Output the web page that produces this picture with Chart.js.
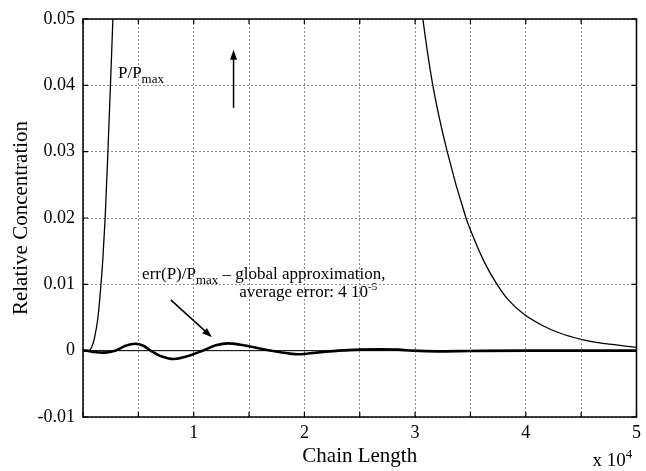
<!DOCTYPE html>
<html>
<head>
<meta charset="utf-8">
<script src="https://cdn.jsdelivr.net/npm/chart.js@4/dist/chart.umd.min.js"></script>
<style>
  html, body { margin: 0; padding: 0; background: #fff; }
  #wrap { width: 646px; height: 471px; }
</style>
</head>
<body>
<div id="wrap"><canvas id="chart" width="646" height="471"></canvas></div>
<script>
// P/Pmax, rising flank (x in units of 10^4)
const riseX = [0, 0.05, 0.08, 0.105, 0.135, 0.16, 0.18, 0.2, 0.225, 0.248, 0.27, 0.29];
const riseY = [0, 0, 0.0006, 0.002, 0.005, 0.0095, 0.014, 0.02, 0.03, 0.04, 0.05, 0.06];
// P/Pmax, falling flank
const fallX = [3.0, 3.07, 3.16, 3.29, 3.46, 3.5, 3.63, 3.74, 3.84, 3.99, 4.15, 4.3, 4.5, 4.65, 4.8, 5.0];
const fallY = [0.06, 0.05, 0.04, 0.03, 0.02, 0.0182, 0.0132, 0.01, 0.0077, 0.0054, 0.0038, 0.0027, 0.0017, 0.0012, 0.0009, 0.0005];
// err(P)/Pmax, global approximation
const errX = [0, 0.03, 0.1, 0.18, 0.29, 0.38, 0.47, 0.55, 0.61, 0.7, 0.82, 0.95, 1.08, 1.2, 1.31, 1.42, 1.52, 1.63, 1.73, 1.85, 1.94, 2.05, 2.17, 2.31, 2.5, 2.68, 2.85, 2.98, 3.2, 3.5, 4, 4.5, 5];
const errY = [0, 0, -0.0002, -0.0003, 0, 0.0007, 0.00105, 0.0007, 0, -0.0008, -0.00125, -0.0008, 0, 0.0008, 0.0011, 0.0009, 0.0006, 0.0002, -0.0001, -0.0004, -0.00055, -0.0004, -0.0002, 0, 0.00015, 0.0002, 0.00015, 0, -0.0001, -0.00005, 0, 0, 0];

const xTicks = [1, 2, 3, 4, 5];
const yTicks = [-0.01, 0, 0.01, 0.02, 0.03, 0.04, 0.05];

const serif = '"Liberation Serif", "Times New Roman", serif';
const pts = (xs, ys) => xs.map((x, i) => ({ x: x, y: ys[i] }));

// draw a row of text pieces, some as sub/superscript
function rich(ctx, x, y, parts) {
  let cx = x;
  parts.forEach(p => {
    ctx.font = p.size + 'px ' + serif;
    ctx.fillText(p.t, cx, y + (p.dy || 0));
    cx += ctx.measureText(p.t).width;
  });
}

function arrow(ctx, x1, y1, x2, y2) {
  const a = Math.atan2(y2 - y1, x2 - x1);
  const hl = 10, hw = 3.5;
  ctx.beginPath();
  ctx.moveTo(x1, y1);
  ctx.lineTo(x2 - Math.cos(a) * hl * 0.8, y2 - Math.sin(a) * hl * 0.8);
  ctx.lineWidth = 1.5;
  ctx.stroke();
  ctx.beginPath();
  ctx.moveTo(x2, y2);
  ctx.lineTo(x2 - Math.cos(a) * hl - Math.sin(a) * hw, y2 - Math.sin(a) * hl + Math.cos(a) * hw);
  ctx.lineTo(x2 - Math.cos(a) * hl + Math.sin(a) * hw, y2 - Math.sin(a) * hl - Math.cos(a) * hw);
  ctx.closePath();
  ctx.fill();
}

const decor = {
  id: 'decor',
  beforeDatasetsDraw(chart) {
    const ctx = chart.ctx, a = chart.chartArea;
    const y0 = chart.scales.y.getPixelForValue(0);
    ctx.save();
    ctx.strokeStyle = '#000';
    ctx.lineWidth = 1;
    ctx.beginPath();
    ctx.moveTo(a.left, y0);
    ctx.lineTo(a.right, y0);
    ctx.stroke();
    ctx.restore();
  },
  afterDraw(chart) {
    const ctx = chart.ctx, a = chart.chartArea;
    const sx = chart.scales.x, sy = chart.scales.y;
    ctx.save();
    ctx.strokeStyle = '#000';
    ctx.fillStyle = '#000';
    // frame
    ctx.lineWidth = 1.5;
    ctx.strokeRect(a.left, a.top, a.right - a.left, a.bottom - a.top);
    // inner tick marks
    ctx.lineWidth = 1.2;
    ctx.beginPath();
    sx.ticks.forEach(t => {
      const px = sx.getPixelForValue(t.value);
      ctx.moveTo(px, a.bottom); ctx.lineTo(px, a.bottom - 5);
      ctx.moveTo(px, a.top); ctx.lineTo(px, a.top + 5);
    });
    sy.ticks.forEach(t => {
      const py = sy.getPixelForValue(t.value);
      ctx.moveTo(a.left, py); ctx.lineTo(a.left + 5, py);
      ctx.moveTo(a.right, py); ctx.lineTo(a.right - 5, py);
    });
    ctx.stroke();
    // annotations
    ctx.textBaseline = 'alphabetic';
    ctx.textAlign = 'left';
    rich(ctx, sx.getPixelForValue(0.316), sy.getPixelForValue(0.0411),
      [{ t: 'P/P', size: 17 }, { t: 'max', size: 13, dy: 5 }]);
    rich(ctx, sx.getPixelForValue(0.534), sy.getPixelForValue(0.0108),
      [{ t: 'err(P)/P', size: 17 }, { t: 'max', size: 13, dy: 5 }, { t: ' \u2013 global approximation,', size: 17 }]);
    rich(ctx, sx.getPixelForValue(1.411), sy.getPixelForValue(0.00814),
      [{ t: 'average error: 4 10', size: 17 }, { t: '-5', size: 11, dy: -7 }]);
    arrow(ctx, sx.getPixelForValue(1.36), sy.getPixelForValue(0.0366),
      sx.getPixelForValue(1.36), sy.getPixelForValue(0.04535));
    arrow(ctx, sx.getPixelForValue(0.793), sy.getPixelForValue(0.00765),
      sx.getPixelForValue(1.165), sy.getPixelForValue(0.00202));
    // x 10^4 multiplier
    rich(ctx, a.right - 44, a.bottom + 49,
      [{ t: 'x 10', size: 19 }, { t: '4', size: 13, dy: -8 }]);
    ctx.restore();
  }
};

const lineStyle = { borderColor: '#000', borderWidth: 1.3, pointRadius: 0, fill: false, cubicInterpolationMode: 'monotone' };

new Chart(document.getElementById('chart'), {
  type: 'line',
  data: {
    datasets: [
      Object.assign({ label: 'P/Pmax', data: pts(riseX, riseY) }, lineStyle),
      Object.assign({ label: 'P/Pmax', data: pts(fallX, fallY) }, lineStyle),
      Object.assign({}, lineStyle, { label: 'err(P)/Pmax', data: pts(errX, errY), borderWidth: 2.6 })
    ]
  },
  options: {
    responsive: false,
    animation: false,
    parsing: true,
    layout: { padding: { left: 0, right: 4, top: 19, bottom: 0 } },
    plugins: { legend: { display: false }, tooltip: { enabled: false } },
    scales: {
      x: {
        type: 'linear', min: 0, max: 5,
        afterFit: s => { s.height = 54; },
        ticks: {
          stepSize: 0.5, autoSkip: false, maxRotation: 0, padding: 5,
          color: '#000', font: { family: serif, size: 18 },
          callback: v => xTicks.includes(v) ? String(v) : ''
        },
        grid: { color: '#8a8a8a', lineWidth: 1, drawTicks: false },
        border: { display: false, dash: [2, 2] },
        title: { display: true, text: 'Chain Length', color: '#000', font: { family: serif, size: 21 }, padding: { top: 0, bottom: 2 } }
      },
      y: {
        type: 'linear', min: -0.01, max: 0.05,
        afterFit: s => { s.width = 83; },
        afterBuildTicks: s => { s.ticks = yTicks.map(v => ({ value: v })); },
        ticks: {
          padding: 8, color: '#000', font: { family: serif, size: 18 },
          callback: v => (Math.abs(v) < 1e-9 ? '0' : v.toFixed(2))
        },
        grid: { color: '#8a8a8a', lineWidth: 1, drawTicks: false },
        border: { display: false, dash: [2, 2] },
        title: { display: true, text: 'Relative Concentration', color: '#000', font: { family: serif, size: 21 }, padding: { top: 9, bottom: 0 } }
      }
    }
  },
  plugins: [decor]
});
</script>
</body>
</html>
